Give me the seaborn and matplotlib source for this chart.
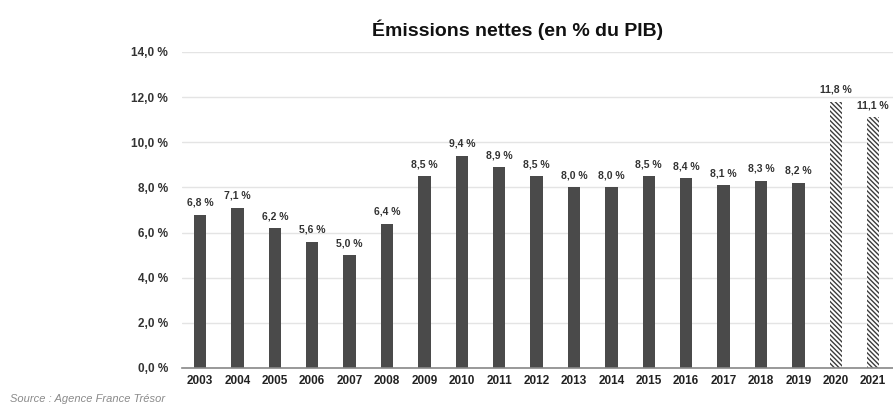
import matplotlib
matplotlib.use("Agg")
import matplotlib.pyplot as plt
import seaborn as sns
import pandas as pd

years = ["2003", "2004", "2005", "2006", "2007", "2008", "2009", "2010", "2011", "2012",
         "2013", "2014", "2015", "2016", "2017", "2018", "2019", "2020", "2021"]
values = [6.8, 7.1, 6.2, 5.6, 5.0, 6.4, 8.5, 9.4, 8.9, 8.5,
          8.0, 8.0, 8.5, 8.4, 8.1, 8.3, 8.2, 11.8, 11.1]
forecast_years = ["2020", "2021"]
y_ticks = [0, 2, 4, 6, 8, 10, 12, 14]

sns.set_theme(style="white")
plt.rcParams["font.family"] = ["Liberation Sans", "DejaVu Sans"]
plt.rcParams["hatch.linewidth"] = 1.0

df = pd.DataFrame({"annee": years, "valeur": values})

fig = plt.figure(figsize=(8.93, 4.07), dpi=100)
ax = fig.add_axes([182 / 893, 1 - 368 / 407, 1 - 182 / 893, (368 - 52) / 407])

sns.barplot(data=df, x="annee", y="valeur", color="#4a4a4a", saturation=1,
            width=0.33, ax=ax, linewidth=0)

def fmt(v):
    return f"{v:.1f}".replace(".", ",") + " %"

for patch, yr, v in zip(ax.patches, years, values):
    if yr in forecast_years:
        patch.set_facecolor("white")
        patch.set_edgecolor("#3c3c3c")
        patch.set_hatch("\\" * 7)
        patch.set_linewidth(0)
    ax.annotate(fmt(v), (patch.get_x() + patch.get_width() / 2, v),
                xytext=(0, 5), textcoords="offset points",
                ha="center", va="bottom", fontsize=7.5, fontweight="bold",
                color="#333333")

ax.set_ylim(0, 14)
ax.set_xlim(-0.48, len(years) - 1 + 0.53)
ax.set_yticks(y_ticks)
ax.set_yticklabels([fmt(t) for t in y_ticks], fontsize=8.5, fontweight="bold",
                   color="#333333")
ax.tick_params(axis="x", labelsize=8.5, colors="#222222", pad=5, length=0)
ax.tick_params(axis="y", pad=10, length=0)
for lbl in ax.get_xticklabels():
    lbl.set_fontweight("bold")
ax.yaxis.grid(True, color="#e4e4e4", linewidth=1)
ax.set_axisbelow(True)
for side in ["top", "right", "left"]:
    ax.spines[side].set_visible(False)
ax.spines["bottom"].set_color("#888888")
ax.spines["bottom"].set_linewidth(1.2)
ax.set_xlabel("")
ax.set_ylabel("")

fig.text(518 / 893, 1 - 30 / 407, "Émissions nettes (en % du PIB)", ha="center",
         va="center", fontsize=14, fontweight="bold", color="#111111")
fig.text(10 / 893, 1 - 399 / 407, "Source : Agence France Trésor", ha="left",
         va="center", fontsize=8, style="italic", color="#8a8a8a")

fig.savefig("out.png", dpi=100, facecolor="white")
